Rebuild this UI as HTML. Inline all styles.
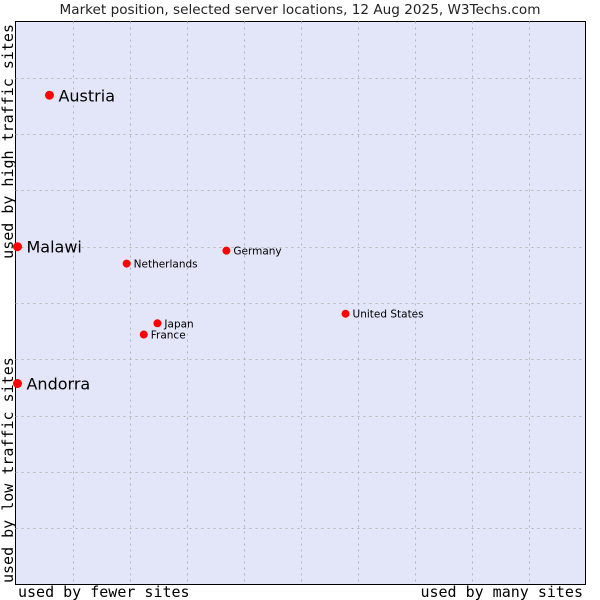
<!DOCTYPE html>
<html><head><meta charset="utf-8"><style>
html,body{margin:0;padding:0;background:#fff;}
svg{display:block;}
</style></head><body>
<svg id="chart" width="600" height="600" xmlns="http://www.w3.org/2000/svg">
<text x="300" y="14" text-anchor="middle" font-family="DejaVu Sans, sans-serif" font-size="13.6" fill="#222">Market position, selected server locations, 12 Aug 2025, W3Techs.com</text>
<rect x="15.5" y="21.5" width="570" height="563" fill="#e3e5f8" stroke="#000" stroke-width="1"/>
<g id="grid"></g>
<g id="points"></g>
<text x="18" y="597" font-family="DejaVu Sans Mono, monospace" font-size="15" fill="#000">used by fewer sites</text>
<text x="583" y="597" text-anchor="end" font-family="DejaVu Sans Mono, monospace" font-size="15" fill="#000">used by many sites</text>
<text transform="translate(13,24) rotate(-90)" text-anchor="end" font-family="DejaVu Sans Mono, monospace" font-size="15" fill="#000">used by high traffic sites</text>
<text transform="translate(13,583) rotate(-90)" font-family="DejaVu Sans Mono, monospace" font-size="15" fill="#000">used by low traffic sites</text>
</svg>
<script>
const names = ["Austria","Malawi","Andorra","Netherlands","Germany","United States","Japan","France"];
const xs = [5.96,0.35,0.35,19.5,37.0,57.9,24.9,22.5];
const ys = [86.9,60.0,35.7,57.0,59.3,48.1,46.4,44.4];
const big = [1,1,1,0,0,0,0,0];
const L=15.5,R=585.5,T=21.5,B=584.5;
const sx=v=>L+v/100*(R-L);
const sy=v=>B-v/100*(B-T);
const NS="http://www.w3.org/2000/svg";
const grid=document.getElementById('grid');
for(let i=1;i<10;i++){
  const v=document.createElementNS(NS,'line');
  
  
  v.setAttribute('x1',Math.round(sx(i*10))+0.5);v.setAttribute('x2',Math.round(sx(i*10))+0.5);
  v.setAttribute('y1',T);v.setAttribute('y2',B);
  v.setAttribute('stroke','#b4b4b4');v.setAttribute('stroke-dasharray','2,4');
  grid.appendChild(v);
  const h=document.createElementNS(NS,'line');
  
  
  h.setAttribute('y1',Math.round(sy(i*10))+0.5);h.setAttribute('y2',Math.round(sy(i*10))+0.5);
  h.setAttribute('x1',L);h.setAttribute('x2',R);
  h.setAttribute('stroke','#b4b4b4');h.setAttribute('stroke-dasharray','2,4');
  grid.appendChild(h);
}
const pts=document.getElementById('points');
names.forEach((n,i)=>{
  const x=sx(xs[i]),y=sy(ys[i]);
  const c=document.createElementNS(NS,'circle');
  
  
  c.setAttribute('cx',x);c.setAttribute('cy',y);c.setAttribute('r',big[i]?4.5:4);
  c.setAttribute('fill','#f00');
  pts.appendChild(c);
  const t=document.createElementNS(NS,'text');
  
  
  t.setAttribute('x',x+(big[i]?9:7));t.setAttribute('y',y+(big[i]?6:4));
  t.setAttribute('font-family','DejaVu Sans, sans-serif');
  t.setAttribute('font-size',big[i]?16:10.5);
  t.setAttribute('fill','#000');
  t.textContent=n;
  pts.appendChild(t);
});
</script>
</body></html>
